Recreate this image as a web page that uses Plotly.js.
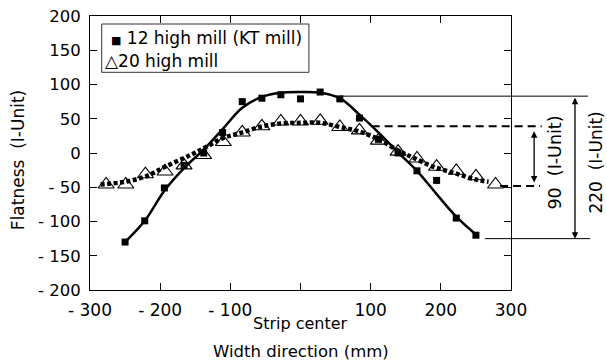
<!DOCTYPE html>
<html>
<head>
<meta charset="utf-8">
<script src="https://cdn.plot.ly/plotly-3.0.1.min.js"></script>
<style>html,body{margin:0;padding:0;background:#fff;}#chart{width:607px;height:363px;}</style>
</head>
<body>
<div id="chart"></div>
<script>
// 12 high mill (KT mill) measured points
var sqX = [-250, -222, -194, -166, -138, -111, -83, -55, -28, 0, 28, 56, 84, 111, 139, 166, 194, 222, 250];
var sqY = [-130, -99, -51, -18, 0, 30, 75, 80, 85, 79, 89, 79, 51, 20, 0, -26, -40, -95, -120];
// 20 high mill measured points
var trX = [-277, -249, -221, -193, -166, -138, -110, -83, -55, -28, 0, 28, 56, 84, 111, 139, 166, 194, 222, 250, 278];
var trY = [-46, -46, -31, -27, -18, -3, 16, 30, 39, 46, 46, 47, 38, 33, 18, 2, -8, -20, -26, -34, -46];
// fitted curve, 12 high mill
var fitX12 = [-250, -222, -194, -166, -138, -110, -83, -55, -28, 0, 28, 56, 84, 112, 140, 166, 194, 222, 251];
var fitY12 = [-130, -99, -55, -22, 5, 36, 66, 82, 88, 89, 88, 80, 56, 29, 0, -26, -60, -93, -120];
// fitted curve, 20 high mill
var fitX20 = [-285, -250, -220, -191, -157, -134, -110, -86, -58, -29, 0, 28, 56, 85, 113, 142, 161, 189, 222, 251, 268];
var fitY20 = [-46, -42, -34, -19, -3, 9, 22, 29, 38, 43, 44, 44, 38, 31, 19, 2, -7, -20, -30, -39, -42];
// ticks
var xTickVals = [-300, -200, -100, 0, 100, 200, 300];
var xTickText = ['- 300', '- 200', '- 100', '', '100', '200', '300'];
var yTickVals = [-200, -150, -100, -50, 0, 50, 100, 150, 200];
var yTickText = ['- 200', '- 150', '- 100', '- 50', '0', '50', '100', '150', '200'];
// bracket values (I-Unit)
var bigTop = 83, bigBottom = -125;
var smallTop = 39, smallBottom = -48;

var FONT = 'DejaVu Sans';

var traces = [
  {x: sqX, y: sqY, mode: 'markers', type: 'scatter', showlegend: false,
   marker: {symbol: 'square', size: 7, color: '#000'}},
  {x: trX, y: trY, mode: 'markers', type: 'scatter', showlegend: false,
   marker: {symbol: 'triangle-up-open', size: 14, color: '#000', line: {width: 1.1, color: '#000'}}},
  {x: fitX12, y: fitY12, mode: 'lines', type: 'scatter', showlegend: false,
   line: {color: '#000', width: 2.5, shape: 'spline', smoothing: 1}},
  {x: fitX20, y: fitY20, mode: 'lines', type: 'scatter', showlegend: false,
   line: {color: '#000', width: 4.5, dash: '4px,2.5px', shape: 'spline', smoothing: 1}}
];

var axisCommon = {
  showgrid: false, zeroline: false, showline: true, linecolor: '#000', linewidth: 1,
  mirror: 'ticks', ticks: 'inside', ticklen: 7, tickcolor: '#000', tickwidth: 1
};

var layout = {
  width: 607, height: 363,
  margin: {l: 90, r: 96, t: 16, b: 73},
  paper_bgcolor: '#fff', plot_bgcolor: '#fff',
  font: {family: FONT, color: '#000'},
  showlegend: false,
  xaxis: Object.assign({}, axisCommon, {
    range: [-300, 300], tickmode: 'array', tickvals: xTickVals, ticktext: xTickText,
    tickfont: {size: 17, family: FONT}, ticklabelstandoff: 5
  }),
  yaxis: Object.assign({}, axisCommon, {
    range: [-200, 200], tickmode: 'array', tickvals: yTickVals, ticktext: yTickText,
    tickfont: {size: 16.5, family: FONT}, ticklabelstandoff: 5
  }),
  shapes: [
    {type: 'rect', xref: 'paper', yref: 'paper', x0: 0.0278, x1: 0.52, y0: 0.7945, y1: 0.9708,
     line: {color: '#333', width: 1}, fillcolor: 'rgba(0,0,0,0)'},
    {type: 'line', xref: 'paper', yref: 'y', x0: 0.594, x1: 1.183, y0: bigTop, y1: bigTop,
     line: {color: '#000', width: 1}},
    {type: 'line', xref: 'paper', yref: 'y', x0: 0.938, x1: 1.188, y0: bigBottom, y1: bigBottom,
     line: {color: '#000', width: 1}},
    {type: 'line', xref: 'paper', yref: 'y', x0: 0.669, x1: 1.073, y0: smallTop, y1: smallTop,
     line: {color: '#000', width: 2, dash: '8px,5px'}},
    {type: 'line', xref: 'paper', yref: 'y', x0: 0.974, x1: 1.069, y0: smallBottom, y1: smallBottom,
     line: {color: '#000', width: 2, dash: '8px,5px'}}
  ],
  annotations: [
    {xref: 'paper', yref: 'paper', x: 0.044, y: 0.9186, xanchor: 'left', yanchor: 'middle', showarrow: false,
     text: '<span style="font-size:11px">■</span> 12 high mill (KT mill)', font: {size: 17, family: FONT}},
    {xref: 'paper', yref: 'paper', x: 0.031, y: 0.8358, xanchor: 'left', yanchor: 'middle', showarrow: false,
     text: '△20 high mill', font: {size: 17, family: FONT}},
    {xref: 'x', yref: 'paper', x: 0, y: -0.124, xanchor: 'center', yanchor: 'middle', showarrow: false,
     text: 'Strip center', font: {size: 16, family: FONT}},
    {xref: 'paper', yref: 'paper', x: 0.5, y: -0.226, xanchor: 'center', yanchor: 'middle', showarrow: false,
     text: 'Width direction (mm)', font: {size: 16.5, family: FONT}},
    {xref: 'paper', yref: 'paper', x: -0.171, y: 0.474, xanchor: 'center', yanchor: 'middle', showarrow: false,
     textangle: -90, text: 'Flatness  (I-Unit)', font: {size: 17, family: FONT}},
    {xref: 'paper', yref: 'y', x: 1.152, y: bigBottom, axref: 'pixel', ayref: 'y', ax: 0, ay: bigTop,
     text: '', showarrow: true, arrowside: 'end+start', arrowhead: 2, arrowsize: 1, arrowwidth: 1.3,
     arrowcolor: '#000', standoff: 0, startstandoff: 0},
    {xref: 'paper', yref: 'y', x: 1.055, y: smallBottom + 5, axref: 'pixel', ayref: 'y', ax: 0, ay: smallTop - 5,
     text: '', showarrow: true, arrowside: 'end+start', arrowhead: 2, arrowsize: 1, arrowwidth: 1.3,
     arrowcolor: '#000', standoff: 0, startstandoff: 0},
    {xref: 'paper', yref: 'y', x: 1.1045, y: -14, xanchor: 'center', yanchor: 'middle', showarrow: false,
     textangle: -90, text: '90  (I-Unit)', font: {size: 17.5, family: FONT}},
    {xref: 'paper', yref: 'y', x: 1.2019, y: -14, xanchor: 'center', yanchor: 'middle', showarrow: false,
     textangle: -90, text: '220  (I-Unit)', font: {size: 17, family: FONT}}
  ]
};

Plotly.newPlot('chart', traces, layout, {displayModeBar: false, staticPlot: true});
</script>
</body>
</html>
